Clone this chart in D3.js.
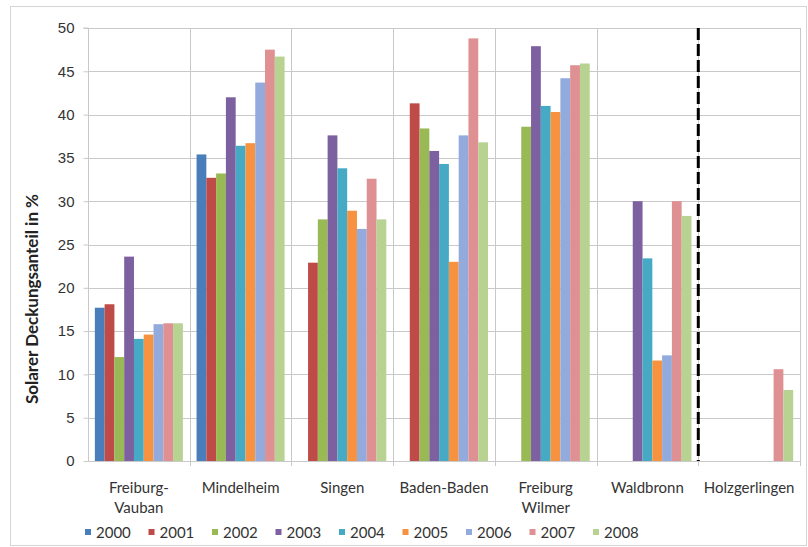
<!DOCTYPE html>
<html>
<head>
<meta charset="utf-8">
<script src="https://cdn.jsdelivr.net/npm/d3@7"></script>
<style>
  html, body { margin: 0; padding: 0; background: #fff; }
  svg { display: block; font-family: Lato, "Open Sans", sans-serif; }
</style>
</head>
<body>
<svg id="chart" width="808" height="547"></svg>
<script>
// Sites (two-line labels split on "\n")
const sites = ["Freiburg-\nVauban", "Mindelheim", "Singen", "Baden-Baden", "Freiburg\nWilmer", "Waldbronn", "Holzgerlingen"];
const years = ["2000", "2001", "2002", "2003", "2004", "2005", "2006", "2007", "2008"];
const yearColors = ["#4a7ebb", "#be4b48", "#98b954", "#7d60a0", "#46aac5", "#f69240", "#93abdc", "#df9093", "#b7d291"];

// Solar fraction (%) per site, one value per year; null = no data
const freiburgVauban = [17.7, 18.1, 12.0, 23.6, 14.1, 14.6, 15.8, 15.9, 15.9];
const mindelheim     = [35.4, 32.7, 33.2, 42.0, 36.4, 36.7, 43.7, 47.5, 46.7];
const singen         = [null, 22.9, 27.9, 37.6, 33.8, 28.9, 26.8, 32.6, 27.9];
const badenBaden     = [null, 41.3, 38.4, 35.8, 34.3, 23.0, 37.6, 48.8, 36.8];
const freiburgWilmer = [null, null, 38.6, 47.9, 41.0, 40.3, 44.2, 45.7, 45.9];
const waldbronn      = [null, null, null, 30.0, 23.4, 11.6, 12.2, 30.0, 28.3];
const holzgerlingen  = [null, null, null, null, null, null, null, 10.6, 8.2];
const siteValues = [freiburgVauban, mindelheim, singen, badenBaden, freiburgWilmer, waldbronn, holzgerlingen];

const yTicks = [0, 5, 10, 15, 20, 25, 30, 35, 40, 45, 50];
const yTitle = "Solarer Deckungsanteil in %";

const svg = d3.select("#chart");
const plot = { left: 88, right: 800, top: 28, bottom: 461 };
const gridColor = "#c9c9c9";
const fontSize = 15;

// outer frame
svg.append("rect")
  .attr("x", 10.5).attr("y", 6.5).attr("width", 796).attr("height", 539)
  .attr("fill", "#fff").attr("stroke", "#d4d4d4");

const x0 = d3.scaleBand().domain(sites).range([plot.left, plot.right]).paddingInner(0).paddingOuter(0);
const x1 = d3.scaleBand().domain(years).range([0, x0.bandwidth()]).paddingInner(0).paddingOuter(0.7);
const y = d3.scaleLinear().domain([0, 50]).range([plot.bottom, plot.top]);

// horizontal gridlines
svg.append("g").selectAll("line").data(yTicks.filter(t => t > 0)).join("line")
  .attr("x1", plot.left).attr("x2", plot.right)
  .attr("y1", d => Math.round(y(d)) + 0.5).attr("y2", d => Math.round(y(d)) + 0.5)
  .attr("stroke", gridColor);

// vertical gridlines at site boundaries
const boundaries = sites.slice(1).map(s => x0(s)).concat([plot.right]);
svg.append("g").selectAll("line").data(boundaries).join("line")
  .attr("x1", d => Math.round(d) + 0.5).attr("x2", d => Math.round(d) + 0.5)
  .attr("y1", plot.top).attr("y2", plot.bottom + 5)
  .attr("stroke", gridColor);

// bars
const groups = svg.append("g").selectAll("g").data(sites).join("g")
  .attr("transform", d => `translate(${x0(d)},0)`);
groups.selectAll("rect")
  .data((s, i) => years.map((yr, j) => ({ yr, j, v: siteValues[i][j] })).filter(d => d.v !== null))
  .join("rect")
  .attr("x", d => x1(d.yr))
  .attr("width", x1.bandwidth())
  .attr("y", d => y(d.v))
  .attr("height", d => y(0) - y(d.v))
  .attr("fill", d => yearColors[d.j]);

// y axis
const yAxis = svg.append("g")
  .attr("transform", `translate(${plot.left + 0.5},0)`)
  .call(d3.axisLeft(y).tickValues(yTicks).tickSize(5).tickPadding(9).tickFormat(d3.format("d")));
yAxis.select(".domain").attr("stroke", gridColor).attr("d", `M-5,${plot.top}H0V${plot.bottom + 0.5}`);
yAxis.selectAll(".tick line").attr("stroke", gridColor);
yAxis.selectAll(".tick text").attr("fill", "#333").attr("font-size", fontSize);

// x axis baseline
svg.append("line")
  .attr("x1", plot.left).attr("x2", plot.right)
  .attr("y1", plot.bottom + 0.5).attr("y2", plot.bottom + 0.5)
  .attr("stroke", gridColor);

// x labels
const xl = svg.append("g").selectAll("text").data(sites).join("text")
  .attr("x", d => x0(d) + x0.bandwidth() / 2)
  .attr("y", 493)
  .attr("text-anchor", "middle")
  .attr("font-size", fontSize)
  .attr("fill", "#333");
xl.selectAll("tspan").data(d => d.split("\n")).join("tspan")
  .attr("x", function () { return d3.select(this.parentNode).attr("x"); })
  .attr("dy", (d, i) => i === 0 ? 0 : 20)
  .text(d => d);

// divider between Waldbronn and Holzgerlingen
svg.append("line")
  .attr("x1", x0("Holzgerlingen")).attr("x2", x0("Holzgerlingen"))
  .attr("y1", plot.top).attr("y2", plot.bottom)
  .attr("stroke", "#000").attr("stroke-width", 3)
  .attr("stroke-dasharray", "12,4");

// y title
svg.append("text")
  .attr("transform", "translate(38,299) rotate(-90)")
  .attr("text-anchor", "middle")
  .attr("font-size", 17)
  .attr("font-weight", "bold")
  .attr("fill", "#222")
  .text(yTitle);

// legend
const legend = svg.append("g").selectAll("g").data(years).join("g")
  .attr("transform", (d, i) => `translate(${85 + i * 63.5},532)`);
legend.append("rect").attr("x", 0).attr("y", -3).attr("width", 6).attr("height", 6)
  .attr("fill", (d, i) => yearColors[i]);
legend.append("text").attr("x", 11).attr("y", 5.5)
  .attr("font-size", fontSize).attr("fill", "#333").text(d => d);
</script>
</body>
</html>
